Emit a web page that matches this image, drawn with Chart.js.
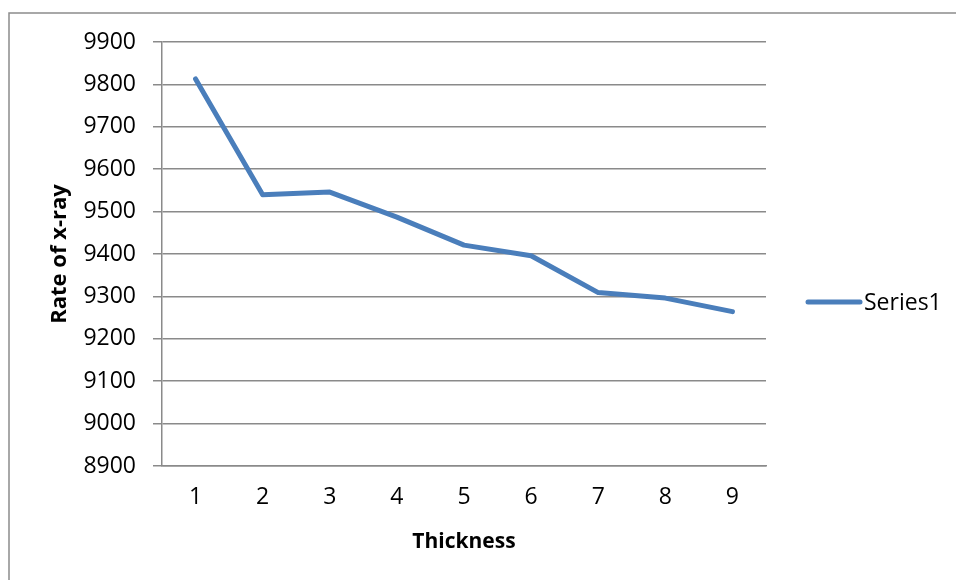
<!DOCTYPE html>
<html>
<head>
<meta charset="utf-8">
<script src="https://cdn.jsdelivr.net/npm/chart.js@4/dist/chart.umd.min.js"></script>
<style>
  html, body { margin: 0; padding: 0; background: #ffffff; }
  #wrap { position: relative; width: 956px; height: 580px; overflow: hidden; }
  canvas { display: block; }
</style>
</head>
<body>
<div id="wrap"><canvas id="chart" width="956" height="580"></canvas></div>
<script>
// Thickness steps along the x axis
const thickness = ['1', '2', '3', '4', '5', '6', '7', '8', '9'];
// Measured x-ray rate at each thickness
const rateSeries1 = [9813, 9540, 9546, 9487, 9421, 9396, 9309, 9296, 9264];
const seriesName = 'Series1';
const yMin = 8900, yMax = 9900, yStep = 100;

const gridGray = '#8a8a8a';
const lineBlue = '#4a7ebb';
const textFont = "'Open Sans', 'DejaVu Sans', sans-serif";

// Outer frame around the chart
const framePlugin = {
  id: 'frame',
  beforeDraw(chart) {
    const ctx = chart.ctx;
    ctx.save();
    ctx.fillStyle = '#ffffff';
    ctx.fillRect(0, 0, chart.width, chart.height);
    ctx.strokeStyle = '#8c8c8c';
    ctx.lineWidth = 1.5;
    ctx.strokeRect(9, 13, chart.width + 20, chart.height + 20);
    ctx.restore();
  }
};

// Legend entry on the right: a line sample followed by the series name
const sideLegend = {
  id: 'sideLegend',
  afterDraw(chart) {
    const ctx = chart.ctx;
    const ds = chart.data.datasets[0];
    const y = 302;
    ctx.save();
    ctx.strokeStyle = ds.borderColor;
    ctx.lineWidth = 5;
    ctx.lineCap = 'round';
    ctx.beginPath();
    ctx.moveTo(808, y);
    ctx.lineTo(860, y);
    ctx.stroke();
    ctx.fillStyle = '#000000';
    ctx.font = '23px ' + textFont;
    ctx.textBaseline = 'middle';
    ctx.textAlign = 'left';
    ctx.fillText(ds.label, 864, y + 1);
    ctx.restore();
  }
};

new Chart(document.getElementById('chart'), {
  type: 'line',
  data: {
    labels: thickness,
    datasets: [{
      label: seriesName,
      data: rateSeries1,
      borderColor: lineBlue,
      backgroundColor: lineBlue,
      borderWidth: 5,
      borderJoinStyle: 'round',
      borderCapStyle: 'round',
      pointRadius: 0,
      tension: 0,
      fill: false
    }]
  },
  options: {
    responsive: false,
    animation: false,
    devicePixelRatio: 1,
    layout: { padding: { top: 42, right: 190, bottom: 0, left: 0 } },
    plugins: {
      legend: { display: false },
      tooltip: { enabled: false }
    },
    scales: {
      x: {
        type: 'category',
        offset: true,
        afterFit(scale) { scale.height = 114; },
        grid: { display: false, drawTicks: false },
        border: { display: true, color: gridGray, width: 1.5 },
        ticks: {
          color: '#000000',
          padding: 18,
          font: { family: textFont, size: 23 },
          maxRotation: 0
        },
        title: {
          display: true,
          text: 'Thickness',
          color: '#000000',
          font: { family: textFont, size: 21, weight: 'bold' },
          padding: { top: 0, bottom: 25 }
        }
      },
      y: {
        min: yMin,
        max: yMax,
        afterFit(scale) { scale.width = 162; },
        grid: {
          color: gridGray,
          lineWidth: 1.5,
          drawTicks: true,
          tickLength: 9,
          tickColor: gridGray
        },
        border: { display: true, color: gridGray, width: 1.5 },
        ticks: {
          stepSize: yStep,
          color: '#000000',
          padding: 17,
          font: { family: textFont, size: 23 },
          callback: (value) => String(value)
        },
        title: {
          display: true,
          text: 'Rate of x-ray',
          color: '#000000',
          font: { family: textFont, size: 22, weight: 'bold' },
          padding: { top: 47, bottom: 0 }
        }
      }
    }
  },
  plugins: [framePlugin, sideLegend]
});
</script>
</body>
</html>
